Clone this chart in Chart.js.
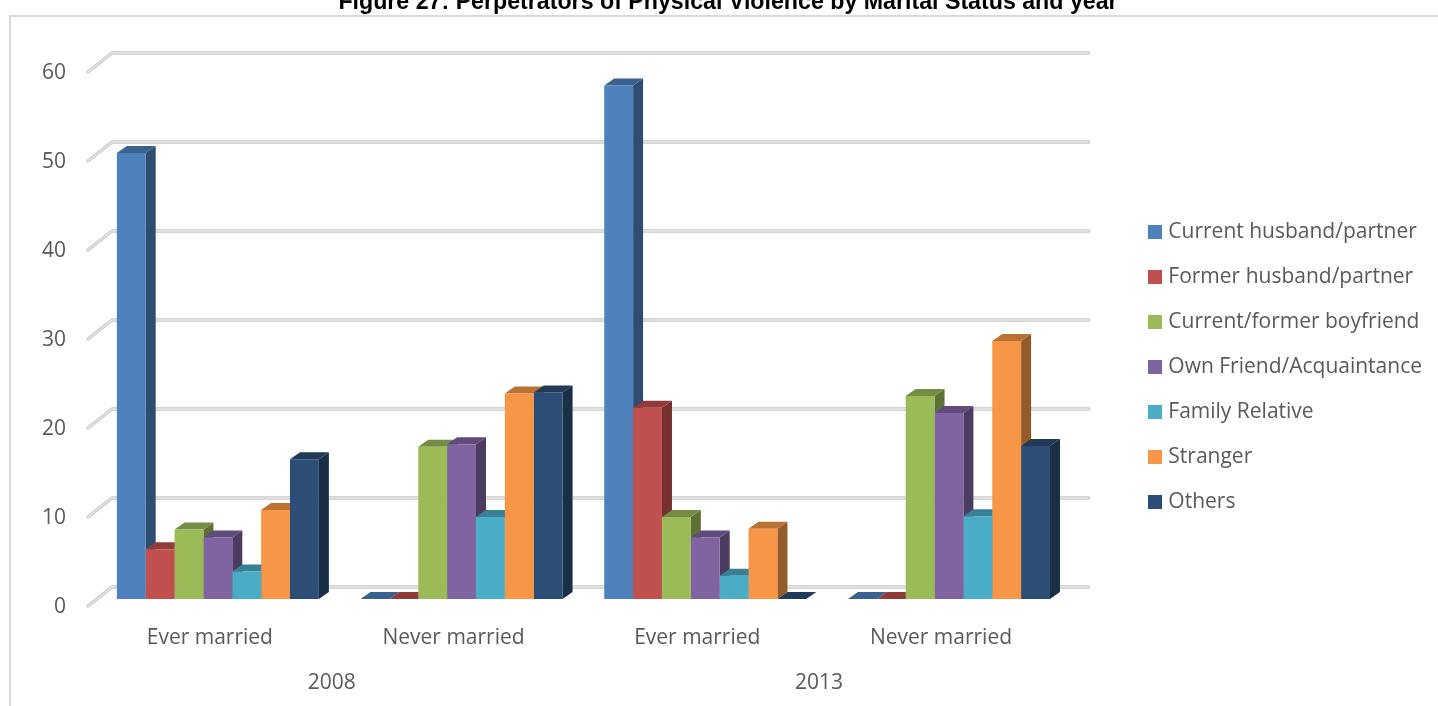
<!DOCTYPE html>
<html>
<head>
<meta charset="utf-8">
<style>
html,body{margin:0;padding:0;background:#fff;overflow:hidden}
#wrap{position:relative;width:1438px;height:706px;overflow:hidden}
canvas{display:block}
</style>
<script src="https://cdn.jsdelivr.net/npm/chart.js@4"></script>
</head>
<body>
<div id="wrap"><canvas id="c" width="1438" height="734"></canvas></div>
<script>
const titleText = 'Figure 27: Perpetrators of Physical Violence by Marital Status and year';
const categories = ['Ever married', 'Never married', 'Ever married', 'Never married'];
const years = ['2008', '2013'];
const currentHusband = [50.1, 0, 57.7, 0];
const formerHusband = [5.6, 0, 21.5, 0];
const boyfriend = [7.8, 17.1, 9.2, 22.8];
const friend = [6.9, 17.4, 6.9, 20.9];
const relative = [3.1, 9.2, 2.6, 9.3];
const stranger = [10.0, 23.1, 7.9, 29.0];
const others = [15.7, 23.2, 0, 17.2];
const seriesNames = ['Current husband/partner', 'Former husband/partner', 'Current/former boyfriend', 'Own Friend/Acquaintance', 'Family Relative', 'Stranger', 'Others'];
const seriesValues = [currentHusband, formerHusband, boyfriend, friend, relative, stranger, others];
const frontColors = ['#4f81bd', '#c0504d', '#9bbb59', '#8064a2', '#4bacc6', '#f79646', '#2c4d75'];
const topColors = ['#3b618e', '#913c3a', '#748c43', '#604b7a', '#388195', '#b97134', '#213a58'];
const sideColors = ['#2f4d71', '#73302e', '#5d7035', '#4d3c61', '#2d6777', '#945a2a', '#1a2e46'];

const FONT = '"Open Sans", sans-serif';
const FS = 21;
const TEXT = '#595959';
const DEPTH_X = 10, DEPTH_Y = 7;

function poly(ctx, pts, fill) {
  ctx.beginPath();
  pts.forEach((p, i) => i ? ctx.lineTo(p[0], p[1]) : ctx.moveTo(p[0], p[1]));
  ctx.closePath();
  ctx.fillStyle = fill;
  ctx.fill();
}

function swatch(color) {
  const c = document.createElement('canvas');
  c.width = 14; c.height = 14;
  const g = c.getContext('2d');
  g.fillStyle = color;
  g.fillRect(0, 0, 14, 14);
  return c;
}
const swatches = frontColors.map(swatch);

const frame3d = {
  id: 'frame3d',
  beforeDraw(chart) {
    const ctx = chart.ctx;
    ctx.save();
    ctx.fillStyle = '#fff';
    ctx.fillRect(0, 0, chart.width, chart.height);
    ctx.strokeStyle = '#d9d9d9';
    ctx.lineWidth = 2;
    ctx.beginPath();
    ctx.moveTo(10, chart.height + 5);
    ctx.lineTo(10, 16);
    ctx.lineTo(chart.width + 5, 16);
    ctx.stroke();
    ctx.restore();
  },
  beforeDatasetsDraw(chart) {
    const ctx = chart.ctx;
    const y = chart.scales.y, a = chart.chartArea;
    ctx.save();
    y.ticks.forEach(t => {
      const py = y.getPixelForValue(t.value);
      const path = () => {
        ctx.beginPath();
        ctx.moveTo(a.left - 8, py + 7);
        ctx.lineTo(a.left + 16, py - 12);
        ctx.lineTo(a.right + 18, py - 12);
      };
      ctx.lineCap = 'round';
      ctx.lineJoin = 'round';
      ctx.strokeStyle = '#c8c8c8';
      ctx.lineWidth = 3.4;
      path(); ctx.stroke();
      ctx.strokeStyle = '#e6e6e6';
      ctx.lineWidth = 1.4;
      path(); ctx.stroke();
    });
    for (let c = 0; c < categories.length; c++) {
      chart.data.datasets.forEach((ds, i) => {
        const b = chart.getDatasetMeta(i).data[c];
        const l = b.x - b.width / 2, r = b.x + b.width / 2, t = b.y, base = b.base;
        if (t < base) {
          poly(ctx, [[r, t], [r + DEPTH_X, t - DEPTH_Y], [r + DEPTH_X, base - DEPTH_Y], [r, base]], sideColors[i]);
        }
        poly(ctx, [[l, t], [r, t], [r + DEPTH_X, t - DEPTH_Y], [l + DEPTH_X, t - DEPTH_Y]], topColors[i]);
      });
    }
    ctx.restore();
  }
};

new Chart(document.getElementById('c'), {
  type: 'bar',
  data: {
    labels: categories,
    datasets: seriesNames.map((name, i) => ({
      label: name,
      data: seriesValues[i],
      xAxisID: 'x',
      yAxisID: 'y',
      backgroundColor: frontColors[i],
      borderWidth: 0,
      barPercentage: 1,
      categoryPercentage: 0.829
    }))
  },
  plugins: [frame3d],
  options: {
    responsive: false,
    animation: false,
    layout: { padding: { left: 24, right: 6, top: 0, bottom: 0 } },
    plugins: {
      tooltip: { enabled: false },
      title: {
        display: true,
        text: titleText,
        color: '#000',
        font: { family: '"Liberation Sans", sans-serif', size: 23.2, weight: 'bold', lineHeight: 1.2 },
        padding: { top: -11, bottom: 48.16 }
      },
      legend: {
        position: 'right',
        align: 'center',
        maxWidth: 310,
        labels: {
          color: TEXT,
          font: { family: FONT, size: FS },
          usePointStyle: true,
          pointStyleWidth: 5,
          boxHeight: 14,
          padding: 24,
          generateLabels(chart) {
            return chart.data.datasets.map((ds, i) => ({
              text: ds.label,
              fontColor: TEXT,
              pointStyle: swatches[i],
              datasetIndex: i,
              hidden: false
            }));
          }
        }
      }
    },
    scales: {
      x: {
        type: 'category',
        position: 'bottom',
        weight: 1,
        afterFit(s) { s.height = 45; },
        grid: { display: false, drawTicks: false },
        border: { display: false },
        ticks: { color: TEXT, font: { family: FONT, size: FS }, padding: 26, labelOffset: -8, autoSkip: false, maxRotation: 0 }
      },
      x2: {
        type: 'category',
        position: 'bottom',
        weight: 2,
        labels: years,
        afterFit(s) { s.height = 90; },
        grid: { display: false, drawTicks: false },
        border: { display: false },
        ticks: { color: TEXT, font: { family: FONT, size: FS }, padding: 26, labelOffset: -8, autoSkip: false, maxRotation: 0 }
      },
      y: {
        type: 'linear',
        min: 0,
        max: 60,
        position: 'left',
        afterFit(s) { s.width = 72; },
        grid: { display: false, drawTicks: false },
        border: { display: false },
        ticks: { stepSize: 10, color: TEXT, font: { family: FONT, size: FS }, padding: 30, labelOffset: 8.5 }
      },
      gap: {
        type: 'linear',
        position: 'right',
        afterFit(s) { s.width = 58; },
        grid: { display: false, drawTicks: false },
        border: { display: false },
        ticks: { display: false }
      }
    }
  }
});
</script>
</body>
</html>
